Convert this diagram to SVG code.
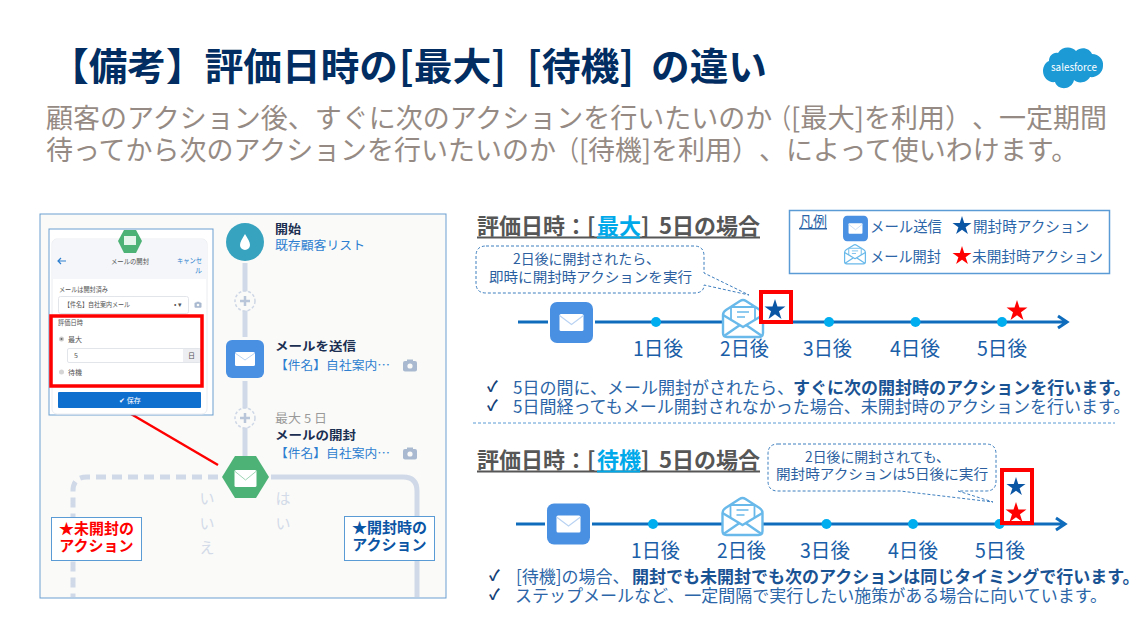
<svg xmlns="http://www.w3.org/2000/svg" xmlns:xlink="http://www.w3.org/1999/xlink" width="1148" height="640" viewBox="0 0 1148 640">
<style>
text{font-family:"Noto Sans CJK JP","Noto Sans",sans-serif;text-spacing-trim:space-all;}
.title{font-size:38px;font-weight:700;fill:#012d62;}
.sub{font-size:27px;fill:#968b84;}
.h{font-size:22px;font-weight:700;fill:#565656;}
.call{font-size:14px;fill:#2c5f9f;}
.day{font-size:20px;fill:#1a5ea8;}
.leg{font-size:15px;fill:#2c66a8;}
.bul{font-size:17px;fill:#2c66a8;}
.bb{font-size:17px;font-weight:700;fill:#1a5394;}
.chk{font-size:15px;font-weight:700;fill:#143f78;}
.tl{stroke:#0f6cbd;stroke-width:3;fill:none;}
.dot{fill:#00aeef;}
.callout{fill:#fff;stroke:#3f7fbf;stroke-width:1;stroke-dasharray:3 2;}
.flow{stroke:#d0d9e7;stroke-width:5;fill:none;}
.plus{fill:#fafaf9;stroke:#ced7e5;stroke-width:1.5;stroke-dasharray:3 2;}
.n1{font-size:12px;font-weight:700;fill:#1b2f52;}
.n2{font-size:12px;fill:#2e7fd0;}
.n3{font-size:12px;fill:#9a9a9a;}
.s{font-size:7px;fill:#555;}
.lab{font-size:15px;font-weight:700;}
.yn{font-size:15px;fill:#d3dbe8;}
</style>
<defs>
<polygon id="star" points="0,-10 2.245,-3.09 9.51,-3.09 3.63,1.18 5.88,8.09 0,3.82 -5.88,8.09 -3.63,1.18 -9.51,-3.09 -2.245,-3.09"/>
<g id="mail">
<rect x="-21.5" y="-20.5" width="43" height="41" rx="7" fill="#4a90e2"/>
<rect x="-12" y="-8.5" width="24" height="17" rx="1.5" fill="#fff"/>
<path d="M-12,-7 L0,2 L12,-7" fill="none" stroke="#b9d3f2" stroke-width="1.2"/>
</g>
<g id="open" fill="#fff" stroke="#69b9ea" stroke-width="2.4" stroke-linejoin="round">
<path d="M-20,-3 Q-20,-6 -17,-8 L-3,-17 Q0,-19 3,-17 L17,-8 Q20,-6 20,-3 L20,15 Q20,19 16,19 L-16,19 Q-20,19 -20,15 Z"/>
<path d="M-12,2 V-11 H12 V2" stroke-width="1.8"/>
<path d="M-20,-3 L0,9 L20,-3 M-19,18 L-3,7 M19,18 L3,7" fill="none"/>
<path d="M-6,-6 H6 M-6,-1 H2" fill="none" stroke-width="1.6"/>
</g>
<g id="cam">
<rect x="-7" y="-5" width="14" height="10.5" rx="2" fill="#a9b9d0"/>
<rect x="-3" y="-6.5" width="6" height="3" fill="#a9b9d0"/>
<circle cx="0" cy="0" r="2.6" fill="#fafaf9"/>
</g>
</defs>
<rect width="1148" height="640" fill="#fff"/>

<g id="heading">
<text class="title" x="50" y="80" textLength="348" lengthAdjust="spacingAndGlyphs">【備考】評価日時の</text>
<text class="title" x="399" y="80" textLength="107" lengthAdjust="spacingAndGlyphs">[最大]</text>
<text class="title" x="527" y="80" textLength="107" lengthAdjust="spacingAndGlyphs">[待機]</text>
<text class="title" x="651" y="80" textLength="116" lengthAdjust="spacingAndGlyphs">の違い</text>
<text class="sub" x="46" y="128">顧客のアクション後、すぐに次のアクションを行いたいのか</text>
<text class="sub" x="769" y="128" textLength="22" lengthAdjust="spacingAndGlyphs">（</text>
<text class="sub" x="791" y="128" textLength="73" lengthAdjust="spacingAndGlyphs">[最大]</text>
<text class="sub" x="864" y="128">を利用）、一定期間</text>
<text class="sub" x="46" y="160" textLength="510" lengthAdjust="spacingAndGlyphs">待ってから次のアクションを行いたいのか</text>
<text class="sub" x="556" y="160" textLength="23" lengthAdjust="spacingAndGlyphs">（</text>
<text class="sub" x="579" y="160" textLength="72" lengthAdjust="spacingAndGlyphs">[待機]</text>
<text class="sub" x="651" y="160">を利用）、によって使いわけます。</text>
</g>

<g id="logo">
<path d="M1058,53 C1062,46 1072,46 1076,51 C1081,46 1090,48 1092,54 C1099,54 1104,60 1103,66 C1103,73 1096,78 1090,77 C1087,83 1078,84 1074,80 C1072,90 1058,91 1055,82 C1049,83 1043,78 1043,71 C1043,66 1046,62 1049,61 C1049,56 1053,52 1058,53 Z" fill="#1b9ad6"/>
<text x="1074" y="71" text-anchor="middle" font-size="10" fill="#fff" textLength="46" lengthAdjust="spacingAndGlyphs">salesforce</text>
</g>

<rect id="panel" x="40" y="214" width="406" height="384" fill="#fafaf9" stroke="#6a9fd0" stroke-width="1"/>

<g id="connectors">
<path class="flow" d="M245,263 V337 M245,381 V456"/>
<path class="flow" d="M271,477 H403 Q417,477 417,491 V597"/>
<path class="flow" stroke-dasharray="10 6" d="M218,477 H87 Q73,477 73,491 V597"/>
<path d="M131,414 L218,465" stroke="#f00" stroke-width="2.5" fill="none"/>
<path class="tl" d="M518,322 H1066 M1058,316 L1067,322 L1058,328"/>
<path class="tl" d="M516,524 H1064 M1056,518 L1065,524 L1056,530"/>
<path d="M473,423 H1115" stroke="#5b9bd5" stroke-width="1" stroke-dasharray="3 2" fill="none"/>
</g>

<g id="node-start">
<circle cx="245" cy="242" r="19" fill="#38a3bf"/>
<path d="M245,234 C248,239 250,242 250,245 A5,5 0 0 1 240,245 C240,242 242,239 245,234 Z" fill="#fff"/>
<text class="n1" x="275" y="234" textLength="26" lengthAdjust="spacingAndGlyphs">開始</text>
<text class="n2" x="275" y="250" textLength="90" lengthAdjust="spacingAndGlyphs">既存顧客リスト</text>
</g>
<g id="plus-1"><circle class="plus" cx="245" cy="301" r="10"/><path d="M245,296 V306 M240,301 H250" stroke="#b9c5d8" stroke-width="2.5"/></g>
<g id="node-send">
<rect x="226" y="340" width="38" height="38" rx="6" fill="#4a90e2"/>
<rect x="235" y="352" width="20" height="14" rx="1.5" fill="#fff"/>
<path d="M235,353 L245,360 L255,353" fill="none" stroke="#b9d3f2" stroke-width="1"/>
<text class="n1" x="275" y="351" textLength="81" lengthAdjust="spacingAndGlyphs">メールを送信</text>
<text class="n2" x="275" y="370" textLength="115" lengthAdjust="spacingAndGlyphs">【件名】自社案内…</text>
<use xlink:href="#cam" href="#cam" x="410" y="366"/>
</g>
<g id="plus-2"><circle class="plus" cx="245" cy="418" r="10"/><path d="M245,413 V423 M240,418 H250" stroke="#b9c5d8" stroke-width="2.5"/></g>
<g id="node-open">
<polygon points="222,477 235,456 256,456 269,477 256,498 235,498" fill="#4db275"/>
<rect x="234.5" y="470" width="22" height="17" rx="1.5" fill="#fff"/>
<path d="M234.5,471 L245.5,480 L256.5,471" fill="none" stroke="#9fd6b5" stroke-width="1"/>
<text class="n3" x="275" y="423" textLength="52" lengthAdjust="spacingAndGlyphs">最大 5 日</text>
<text class="n1" x="275" y="440" textLength="81" lengthAdjust="spacingAndGlyphs">メールの開封</text>
<text class="n2" x="275" y="458" textLength="115" lengthAdjust="spacingAndGlyphs">【件名】自社案内…</text>
<use xlink:href="#cam" href="#cam" x="410" y="454"/>
<text class="yn" x="283" y="504" text-anchor="middle">は</text>
<text class="yn" x="283" y="529" text-anchor="middle">い</text>
<text class="yn" x="207" y="504" text-anchor="middle">い</text>
<text class="yn" x="207" y="529" text-anchor="middle">い</text>
<text class="yn" x="207" y="553" text-anchor="middle">え</text>
</g>
<g id="label-unopened">
<rect x="51.5" y="517.5" width="90" height="43" fill="#fff" stroke="#5b9bd5" stroke-width="1"/>
<text class="lab" x="96.5" y="534" text-anchor="middle" fill="#f00">★未開封の</text>
<text class="lab" x="96.5" y="551" text-anchor="middle" fill="#f00">アクション</text>
</g>
<g id="label-opened">
<rect x="344.5" y="516.5" width="90" height="44" fill="#fff" stroke="#5b9bd5" stroke-width="1"/>
<text class="lab" x="389.5" y="533" text-anchor="middle" fill="#0b55a5">★開封時の</text>
<text class="lab" x="389.5" y="550" text-anchor="middle" fill="#0b55a5">アクション</text>
</g>

<g id="inset">
<rect x="49" y="229" width="164" height="186" fill="#fff" stroke="#6a9fd0" stroke-width="1"/>
<rect x="52" y="239" width="155" height="175" rx="5" fill="#fff" stroke="#e9ecf0"/>
<path d="M52.5,279 V244 Q52.5,239.5 57,239.5 H202 Q206.5,239.5 206.5,244 V279 Z" fill="#f4f6f9"/>
<polygon points="118,241 124,230 136,230 142,241 136,253 124,253" fill="#4db275"/>
<rect x="124" y="236" width="12" height="9" fill="#e6f5ec"/>
<path d="M66,261 H58 M61,258 L58,261 L61,264" stroke="#2e7fd0" stroke-width="1.2" fill="none"/>
<text class="s" x="130" y="264" text-anchor="middle" textLength="38" lengthAdjust="spacingAndGlyphs">メールの開封</text>
<text class="s" x="177" y="263" style="fill:#2e7fd0" textLength="25" lengthAdjust="spacingAndGlyphs">キャンセ</text>
<text class="s" x="195" y="273" style="fill:#2e7fd0">ル</text>
<text class="s" x="59" y="292" textLength="49" lengthAdjust="spacingAndGlyphs">メールは開封済み</text>
<rect x="58.5" y="296.5" width="130" height="17" rx="2" fill="#fff" stroke="#e2e5ea"/>
<text class="s" x="64" y="307" textLength="66" lengthAdjust="spacingAndGlyphs">【件名】自社案内メール</text>
<text class="s" x="174" y="307">• ▾</text>
<use xlink:href="#cam" href="#cam" transform="translate(198,305) scale(.5)"/>
<text class="s" x="58" y="325" textLength="25" lengthAdjust="spacingAndGlyphs">評価日時</text>
<circle cx="61.5" cy="339" r="2.5" fill="#ccc"/><circle cx="61.5" cy="339" r="1" fill="#666"/>
<text class="s" x="68" y="342">最大</text>
<rect x="67.5" y="348.5" width="133" height="14" rx="1.5" fill="#fff" stroke="#e2e5ea"/>
<rect x="183" y="349" width="17" height="13" fill="#eceef1"/>
<text class="s" x="74" y="358">5</text>
<text class="s" x="188" y="358">日</text>
<circle cx="61.5" cy="372" r="2.5" fill="#d5d5d5"/>
<text class="s" x="68" y="375">待機</text>
<rect x="51" y="316" width="151" height="70" fill="none" stroke="#f00" stroke-width="3.5"/>
<rect x="58" y="392" width="143" height="16" rx="1" fill="#0f6fcf"/>
<text class="s" x="130" y="403" text-anchor="middle" style="fill:#fff">✔ 保存</text>
</g>

<g id="section-max">
<text class="h" x="477" y="234">評価日時：[</text>
<text class="h" x="597" y="234" style="fill:#00a9ea">最大</text>
<text class="h" x="641" y="234">]</text>
<text class="h" x="659" y="234">5日の場合</text>
<path d="M477,237.5 H760" stroke="#565656" stroke-width="1.8" fill="none"/>
<path d="M597,237.5 H640" stroke="#00a9ea" stroke-width="1.8" fill="none"/>
<path class="callout" d="M486,246 H694 Q704,246 704,256 V273 L749,295 L704,285 Q704,293 694,293 H486 Q476,293 476,283 V256 Q476,246 486,246 Z"/>
<text class="call" x="513" y="264" textLength="147" lengthAdjust="spacingAndGlyphs">2日後に開封されたら、</text>
<text class="call" x="489" y="282" textLength="203" lengthAdjust="spacingAndGlyphs">即時に開封時アクションを実行</text>
</g>
<g id="timeline-max">
<rect x="548" y="299" width="47" height="46" fill="#fff"/>
<use xlink:href="#mail" href="#mail" x="571.5" y="322.5"/>
<circle class="dot" cx="656" cy="322" r="5"/>
<circle class="dot" cx="829" cy="322" r="5"/>
<circle class="dot" cx="915.5" cy="322" r="5"/>
<circle class="dot" cx="1002" cy="322" r="5"/>
<use xlink:href="#open" href="#open" x="743" y="318"/>
<rect x="761" y="292" width="30" height="30" fill="#fff" stroke="#f00" stroke-width="4"/>
<use xlink:href="#star" href="#star" transform="translate(775,310) scale(1.1)" fill="#0b55a5"/>
<use xlink:href="#star" href="#star" transform="translate(1017,311) scale(1.1)" fill="#f00"/>
<text class="day" x="633" y="356" textLength="50" lengthAdjust="spacingAndGlyphs">1日後</text>
<text class="day" x="720" y="356" textLength="49" lengthAdjust="spacingAndGlyphs">2日後</text>
<text class="day" x="803" y="356" textLength="49" lengthAdjust="spacingAndGlyphs">3日後</text>
<text class="day" x="890" y="356" textLength="50" lengthAdjust="spacingAndGlyphs">4日後</text>
<text class="day" x="977" y="356" textLength="50" lengthAdjust="spacingAndGlyphs">5日後</text>
</g>
<g id="legend">
<rect x="789.5" y="210.5" width="320" height="63" fill="#fff" stroke="#5b9bd5" stroke-width="1.5"/>
<text class="leg" x="799" y="227" text-decoration="underline" textLength="28" lengthAdjust="spacingAndGlyphs">凡例</text>
<use xlink:href="#mail" href="#mail" transform="translate(855.5,228.5) scale(.58,.62)"/>
<text class="leg" x="870" y="232" textLength="72" lengthAdjust="spacingAndGlyphs">メール送信</text>
<use xlink:href="#star" href="#star" transform="translate(962,226)" fill="#0b55a5"/>
<text class="leg" x="973" y="232" textLength="116" lengthAdjust="spacingAndGlyphs">開封時アクション</text>
<use xlink:href="#open" href="#open" transform="translate(855,254) scale(.52)"/>
<text class="leg" x="870" y="262" textLength="71" lengthAdjust="spacingAndGlyphs">メール開封</text>
<use xlink:href="#star" href="#star" transform="translate(962,256)" fill="#f00"/>
<text class="leg" x="972" y="262" textLength="131" lengthAdjust="spacingAndGlyphs">未開封時アクション</text>
</g>
<g id="notes-max">
<text class="chk" x="487" y="392">✓</text>
<text class="bul" x="513" y="394">5日の間に、メール開封がされたら、</text>
<text class="bb" x="793" y="394">すぐに次の開封時のアクションを行います。</text>
<text class="chk" x="487" y="411">✓</text>
<text class="bul" x="513" y="413">5日間経ってもメール開封されなかった場合、未開封時のアクションを行います。</text>
</g>

<g id="section-wait">
<text class="h" x="477" y="468">評価日時：[</text>
<text class="h" x="597" y="468" style="fill:#00a9ea">待機</text>
<text class="h" x="641" y="468">]</text>
<text class="h" x="659" y="468">5日の場合</text>
<path d="M477,471.5 H760" stroke="#565656" stroke-width="1.8" fill="none"/>
<path d="M597,471.5 H640" stroke="#00a9ea" stroke-width="1.8" fill="none"/>
<path class="callout" d="M778,444 H986 Q996,444 996,454 V481 Q996,491 986,491 H958 L993,502 L900,491 H778 Q768,491 768,481 V454 Q768,444 778,444 Z"/>
<text class="call" x="805" y="462" textLength="145" lengthAdjust="spacingAndGlyphs">2日後に開封されても、</text>
<text class="call" x="776" y="479" textLength="212" lengthAdjust="spacingAndGlyphs">開封時アクションは5日後に実行</text>
</g>
<g id="timeline-wait">
<rect x="545" y="501" width="47" height="46" fill="#fff"/>
<use xlink:href="#mail" href="#mail" x="568.5" y="524"/>
<circle class="dot" cx="653" cy="524" r="5"/>
<circle class="dot" cx="826.5" cy="524" r="5"/>
<circle class="dot" cx="913" cy="524" r="5"/>
<circle class="dot" cx="999.5" cy="524" r="5"/>
<use xlink:href="#open" href="#open" x="742.5" y="516"/>
<rect x="1002" y="470" width="30" height="53" fill="none" stroke="#f00" stroke-width="4"/>
<use xlink:href="#star" href="#star" transform="translate(1016,487)" fill="#0b55a5"/>
<use xlink:href="#star" href="#star" transform="translate(1016,513) scale(1.1)" fill="#f00"/>
<text class="day" x="631" y="558" textLength="49" lengthAdjust="spacingAndGlyphs">1日後</text>
<text class="day" x="717" y="558" textLength="49" lengthAdjust="spacingAndGlyphs">2日後</text>
<text class="day" x="800" y="558" textLength="50" lengthAdjust="spacingAndGlyphs">3日後</text>
<text class="day" x="888" y="558" textLength="50" lengthAdjust="spacingAndGlyphs">4日後</text>
<text class="day" x="975" y="558" textLength="50" lengthAdjust="spacingAndGlyphs">5日後</text>
</g>
<g id="notes-wait">
<text class="chk" x="489" y="581">✓</text>
<text class="bul" x="516" y="583">[待機]の場合、</text>
<text class="bb" x="632" y="583">開封でも未開封でも次のアクションは同じタイミングで行います。</text>
<text class="chk" x="489" y="600">✓</text>
<text class="bul" x="515" y="602">ステップメールなど、一定間隔で実行したい施策がある場合に向いています。</text>
</g>
</svg>
